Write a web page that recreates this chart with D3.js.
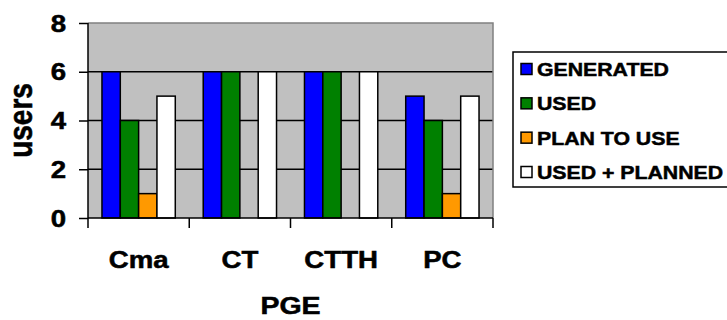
<!DOCTYPE html>
<html>
<head>
<meta charset="utf-8">
<script src="https://cdn.jsdelivr.net/npm/d3@7"></script>
<style>
  html, body { margin: 0; padding: 0; background: #fff; }
  svg { display: block; }
  text { font-family: "Liberation Sans", Arial, sans-serif; font-weight: bold; fill: #000; stroke: #000; stroke-width: 0.5px; }
</style>
</head>
<body>
<svg id="chart" width="727" height="320"></svg>
<script>
// PGE products and how many users generate / use / plan to use them
const categories = ["Cma", "CT", "CTTH", "PC"];
const seriesNames = ["GENERATED", "USED", "PLAN TO USE", "USED + PLANNED"];
const generated = [6, 6, 6, 5];
const used = [4, 6, 6, 4];
const planToUse = [1, 0, 0, 1];
const usedPlusPlanned = [5, 6, 6, 5];
const yTicks = [0, 2, 4, 6, 8];
const colors = ["#0000FF", "#008000", "#FF9900", "#FFFFFF"];

const seriesValues = [generated, used, planToUse, usedPlusPlanned];
const rows = categories.map((c, i) => ({
  category: c,
  values: seriesNames.map((s, j) => ({ series: s, value: seriesValues[j][i], color: colors[j] }))
}));

const svg = d3.select("#chart");
const plot = { left: 88, right: 493, top: 23, bottom: 218 };
const stretch = 1.2; // horizontal text stretch

const x0 = d3.scaleBand().domain(categories).range([plot.left, plot.right]).padding(0);
const bw = x0.bandwidth();
const x1 = d3.scaleBand().domain(seriesNames).range([bw * 0.138, bw * 0.862]).padding(0);
const y = d3.scaleLinear().domain([0, 8]).range([plot.bottom, plot.top]);

// plot background
svg.append("rect")
  .attr("x", plot.left).attr("y", plot.top)
  .attr("width", plot.right - plot.left).attr("height", plot.bottom - plot.top)
  .attr("fill", "#C0C0C0");

// horizontal gridlines
svg.append("g").selectAll("line")
  .data(yTicks.filter(t => t > 0 && t < 8))
  .join("line")
  .attr("x1", plot.left).attr("x2", plot.right)
  .attr("y1", d => y(d)).attr("y2", d => y(d))
  .attr("stroke", "#000").attr("stroke-width", 1.5);

// plot frame, top and right
svg.append("path")
  .attr("d", `M${plot.left},${plot.top}H${plot.right}V${plot.bottom}`)
  .attr("fill", "none").attr("stroke", "#808080").attr("stroke-width", 1.5);

// bars
const groups = svg.append("g").selectAll("g")
  .data(rows).join("g")
  .attr("transform", d => `translate(${x0(d.category)},0)`);
groups.selectAll("rect")
  .data(d => d.values.filter(v => v.value > 0))
  .join("rect")
  .attr("x", d => x1(d.series))
  .attr("width", x1.bandwidth())
  .attr("y", d => y(d.value))
  .attr("height", d => y(0) - y(d.value))
  .attr("fill", d => d.color)
  .attr("stroke", "#000").attr("stroke-width", 1.5);

// y axis
const yAxis = svg.append("g").attr("transform", `translate(${plot.left},0)`)
  .call(d3.axisLeft(y).tickValues(yTicks).tickSize(9).tickFormat(d3.format("d")));
yAxis.select(".domain").attr("stroke", "#000").attr("stroke-width", 1.5).attr("d", `M0,${plot.top}V${plot.bottom}`);
yAxis.selectAll(".tick line").attr("stroke", "#000").attr("stroke-width", 1.5);
yAxis.selectAll(".tick text")
  .attr("x", null).attr("dy", null)
  .attr("text-anchor", "end")
  .attr("font-size", 23)
  .attr("transform", `translate(-22,8) scale(${stretch},1)`);
yAxis.attr("font-family", null).attr("font-size", null);

// x axis
const xAxis = svg.append("g").attr("transform", `translate(0,${plot.bottom})`)
  .call(d3.axisBottom(x0).tickSize(0).tickFormat(""));
xAxis.select(".domain").attr("stroke", "#000").attr("stroke-width", 1.5).attr("d", `M${plot.left},0H${plot.right}`);
xAxis.selectAll(".tick").remove();
const bounds = categories.map(c => x0(c)).concat([plot.right]);
xAxis.selectAll("line.sep")
  .data(bounds).join("line")
  .attr("class", "sep")
  .attr("x1", d => d).attr("x2", d => d)
  .attr("y1", 0).attr("y2", 10)
  .attr("stroke", "#000").attr("stroke-width", 1.5);

svg.append("g").selectAll("text")
  .data(categories).join("text")
  .attr("text-anchor", "middle")
  .attr("font-size", 23)
  .attr("transform", d => `translate(${x0(d) + bw / 2},268) scale(${stretch},1)`)
  .text(d => d);

// axis titles
svg.append("text")
  .attr("text-anchor", "middle")
  .attr("font-size", 23)
  .attr("transform", `translate(${(plot.left + plot.right) / 2},314) scale(1.24,1)`)
  .text("PGE");

svg.append("text")
  .attr("text-anchor", "middle")
  .attr("font-size", 28)
  .attr("transform", `translate(32,${(plot.top + plot.bottom) / 2}) scale(${stretch},1) rotate(-90)`)
  .text("users");

// legend
const legend = svg.append("g");
legend.append("rect")
  .attr("x", 513).attr("y", 52)
  .attr("width", 230).attr("height", 135)
  .attr("fill", "#fff").attr("stroke", "#000").attr("stroke-width", 1.5);
const ly = d3.scalePoint().domain(seriesNames).range([69, 172]);
const items = legend.selectAll("g.item")
  .data(seriesNames).join("g")
  .attr("class", "item")
  .attr("transform", d => `translate(0,${ly(d)})`);
items.append("rect")
  .attr("x", 521).attr("y", -5.5)
  .attr("width", 11).attr("height", 11)
  .attr("fill", (d, i) => colors[i])
  .attr("stroke", "#000").attr("stroke-width", 1.5);
items.append("text")
  .attr("font-size", 19)
  .attr("transform", "translate(537,7) scale(1.12,1)")
  .text(d => d);
</script>
</body>
</html>
